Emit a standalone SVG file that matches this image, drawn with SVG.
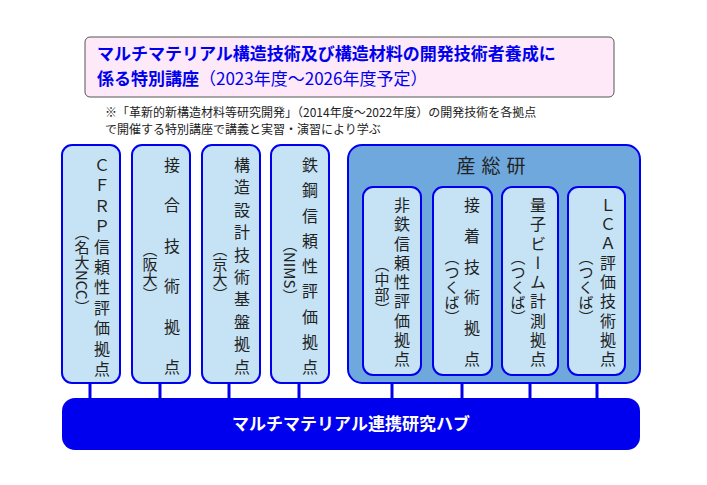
<svg xmlns="http://www.w3.org/2000/svg" width="707" height="485" viewBox="0 0 707 485">
<style>
text{font-family:"Noto Sans CJK JP","Liberation Sans",sans-serif;fill:#222}
.v{writing-mode:vertical-rl;font-size:16px}
.p{writing-mode:vertical-rl;font-size:15px}
.box{fill:#c5e3f5;stroke:#0000ee;stroke-width:2}
.ln{stroke:#0000ee;stroke-width:3}
</style>
<rect width="707" height="485" fill="#fff"/>
<g id="title">
<rect x="85" y="37" width="529" height="60" rx="5" fill="#fde9f8" stroke="#555" stroke-width="1"/>
<text x="97" y="60" font-size="17" font-weight="bold" style="fill:#0000ee">マルチマテリアル構造技術及び構造材料の開発技術者養成に</text>
<text x="97" y="85" font-size="17" style="fill:#0000ee"><tspan font-weight="bold">係る特別講座</tspan>（2023年度～2026年度予定）</text>
</g>
<g id="note">
<text x="105" y="117" font-size="12">※「革新的新構造材料等研究開発」（2014年度～2022年度）の開発技術を各拠点</text>
<text x="105" y="134" font-size="12">で開催する特別講座で講義と実習・演習により学ぶ</text>
</g>
<g id="connectors">
<line class="ln" x1="90" y1="383" x2="90" y2="400"/>
<line class="ln" x1="160" y1="383" x2="160" y2="400"/>
<line class="ln" x1="229" y1="383" x2="229" y2="400"/>
<line class="ln" x1="299" y1="383" x2="299" y2="400"/>
<line class="ln" x1="392" y1="375" x2="392" y2="400"/>
<line class="ln" x1="462" y1="375" x2="462" y2="400"/>
<line class="ln" x1="530" y1="375" x2="530" y2="400"/>
<line class="ln" x1="597" y1="375" x2="597" y2="400"/>
</g>
<g id="n1"><rect class="box" x="62" y="145" width="58" height="238" rx="10"/>
<text class="v" x="102" y="157" letter-spacing="4.4">ＣＦＲＰ信頼性評価拠点</text>
<text class="p" x="82" y="225">（名大NCC）</text></g>
<g id="n2"><rect class="box" x="132" y="145" width="58" height="238" rx="10"/>
<text class="v" x="172" y="157" letter-spacing="24.4">接合技術拠点</text>
<text class="p" x="150" y="242">（阪大）</text></g>
<g id="n3"><rect class="box" x="202" y="145" width="58" height="238" rx="10"/>
<text class="v" x="242" y="157" letter-spacing="6.4">構造設計技術基盤拠点</text>
<text class="p" x="220" y="242">（京大）</text></g>
<g id="n4"><rect class="box" x="271" y="145" width="58" height="238" rx="10"/>
<text class="v" x="310" y="157" letter-spacing="9.25">鉄鋼信頼性評価拠点</text>
<text class="p" x="290" y="237">（NIMS）</text></g>
<g id="aist">
<rect x="348" y="145" width="292" height="238" rx="14" fill="#6fa8dc" stroke="#0000ee" stroke-width="2"/>
<text x="494" y="173" font-size="19" text-anchor="middle" letter-spacing="6">産総研</text>
</g>
<g id="n5"><rect class="box" x="363" y="187" width="58" height="188" rx="10"/>
<text class="v" x="402" y="197" letter-spacing="3.25">非鉄信頼性評価拠点</text>
<text class="p" x="382" y="257">（中部）</text></g>
<g id="n6"><rect class="box" x="433" y="187" width="59" height="188" rx="10"/>
<text class="v" x="472" y="197" letter-spacing="14.8">接着技術拠点</text>
<text class="p" x="452" y="250">（つくば）</text></g>
<g id="n7"><rect class="box" x="502" y="187" width="56" height="188" rx="10"/>
<text class="v" x="538" y="197" letter-spacing="3.25">量子ビーム計測拠点</text>
<text class="p" x="518" y="250">（つくば）</text></g>
<g id="n8"><rect class="box" x="568" y="187" width="57" height="188" rx="10"/>
<text class="v" x="608" y="197" letter-spacing="3.25">ＬＣＡ評価技術拠点</text>
<text class="p" x="586" y="250">（つくば）</text></g>
<g id="hub">
<rect x="62" y="398" width="578" height="52" rx="13" fill="#0000ee"/>
<text x="351" y="430" font-size="17" font-weight="bold" text-anchor="middle" style="fill:#fff">マルチマテリアル連携研究ハブ</text>
</g>
</svg>
